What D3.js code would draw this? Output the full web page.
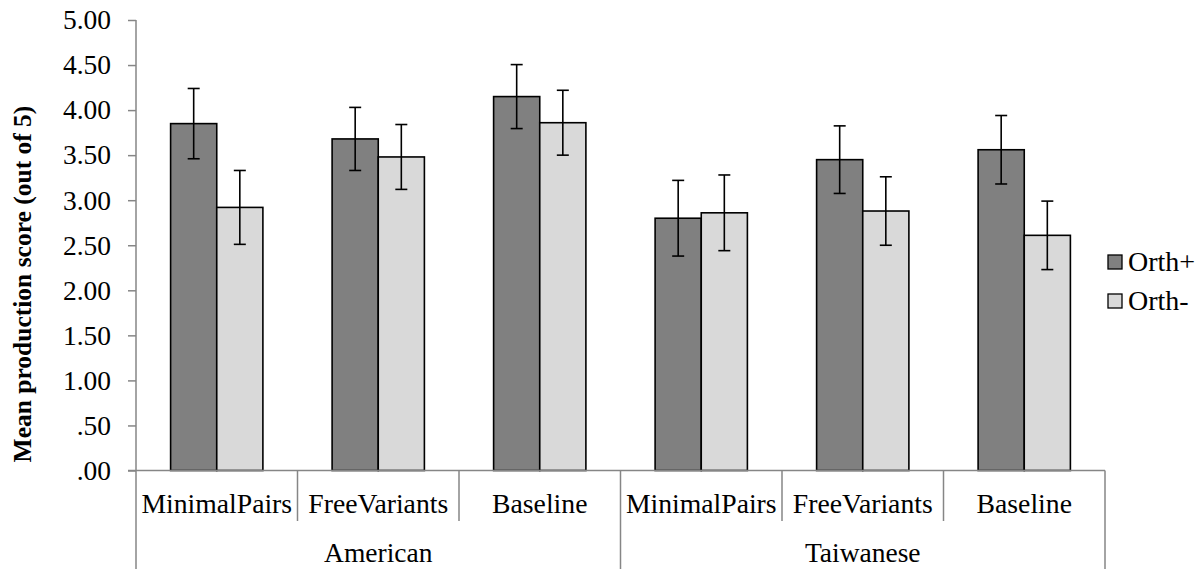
<!DOCTYPE html>
<html>
<head>
<meta charset="utf-8">
<script src="https://cdn.jsdelivr.net/npm/d3@7"></script>
<style>
  html, body { margin: 0; padding: 0; background: #fff; }
  svg { display: block; }
</style>
</head>
<body>
<svg id="chart" width="1199" height="569"></svg>
<script>
// ---- data ----
const groups = ["American", "Taiwanese"];
const conditions = ["MinimalPairs", "FreeVariants", "Baseline"];
const seriesNames = ["Orth+", "Orth-"];
const orthPlus      = [3.85, 3.68, 4.15, 2.80, 3.45, 3.56];
const orthMinus     = [2.92, 3.48, 3.86, 2.86, 2.88, 2.61];
const orthPlusErr   = [0.39, 0.35, 0.355, 0.42, 0.375, 0.38];
const orthMinusErr  = [0.41, 0.36, 0.36, 0.42, 0.38, 0.38];
const yTicks = [0, 0.5, 1, 1.5, 2, 2.5, 3, 3.5, 4, 4.5, 5];
const yTitle = "Mean production score (out of 5)";

// ---- layout ----
const FONT = "'Liberation Serif', 'Times New Roman', Times, serif";
const svg = d3.select("#chart");
const pL = 136, pR = 1105, pT = 20, pB = 470.5;
const axisColor = "#868686";
const fills = ["#808080", "#d9d9d9"];

const cats = [];
groups.forEach(g => conditions.forEach(c => cats.push(g + "|" + c)));

const x = d3.scaleBand().domain(cats).range([pL, pR]).paddingInner(0).paddingOuter(0);
const xs = d3.scaleBand().domain(seriesNames).range([0, x.bandwidth()]).paddingInner(0).paddingOuter(0.75);
const y = d3.scaleLinear().domain([0, 5]).range([pB, pT]);

const fmt = v => { const s = d3.format(".2f")(v); return s.startsWith("0") ? s.slice(1) : s; };

// y axis
const yAxis = d3.axisLeft(y).tickValues(yTicks).tickFormat(fmt).tickSize(8).tickPadding(17);
const yg = svg.append("g").attr("transform", `translate(${pL},0)`).call(yAxis);
yg.attr("font-family", FONT);
yg.select(".domain").remove();
yg.selectAll(".tick line").attr("stroke", axisColor).attr("stroke-width", 1.5);
yg.selectAll(".tick text").attr("font-size", 27.5).attr("fill", "#000").style("font-family", FONT);

// bars
const data = cats.map((c, i) => ({ cat: c, vals: [
  { s: seriesNames[0], v: orthPlus[i], e: orthPlusErr[i], f: fills[0] },
  { s: seriesNames[1], v: orthMinus[i], e: orthMinusErr[i], f: fills[1] }
]}));

const cg = svg.append("g").selectAll("g").data(data).join("g")
  .attr("transform", d => `translate(${x(d.cat)},0)`);

cg.selectAll("rect").data(d => d.vals).join("rect")
  .attr("x", d => xs(d.s))
  .attr("y", d => y(d.v))
  .attr("width", xs.bandwidth())
  .attr("height", d => y(0) - y(d.v))
  .attr("fill", d => d.f)
  .attr("stroke", "#000")
  .attr("stroke-width", 1.6);

// error bars
const eb = cg.selectAll("g.err").data(d => d.vals).join("g").attr("class", "err")
  .attr("transform", d => `translate(${xs(d.s) + xs.bandwidth() / 2},0)`);
eb.append("line").attr("x1", 0).attr("x2", 0)
  .attr("y1", d => y(d.v + d.e)).attr("y2", d => y(d.v - d.e))
  .attr("stroke", "#000").attr("stroke-width", 1.6);
eb.append("line").attr("x1", -6).attr("x2", 6)
  .attr("y1", d => y(d.v + d.e)).attr("y2", d => y(d.v + d.e))
  .attr("stroke", "#000").attr("stroke-width", 1.6);
eb.append("line").attr("x1", -6).attr("x2", 6)
  .attr("y1", d => y(d.v - d.e)).attr("y2", d => y(d.v - d.e))
  .attr("stroke", "#000").attr("stroke-width", 1.6);

// axes lines
svg.append("line").attr("x1", pL).attr("x2", pL).attr("y1", pT).attr("y2", 569)
  .attr("stroke", axisColor).attr("stroke-width", 1.5);
svg.append("line").attr("x1", pL - 8).attr("x2", pR).attr("y1", pB).attr("y2", pB)
  .attr("stroke", axisColor).attr("stroke-width", 1.5);

// category dividers
const bw = x.bandwidth();
cats.forEach((c, i) => {
  const xr = x(c) + bw;
  const isGroupEnd = (i % conditions.length) === conditions.length - 1;
  svg.append("line").attr("x1", xr).attr("x2", xr).attr("y1", pB)
    .attr("y2", isGroupEnd ? 569 : 521)
    .attr("stroke", axisColor).attr("stroke-width", 1.5);
});

// category labels
svg.append("g").selectAll("text").data(cats).join("text")
  .attr("x", d => x(d) + bw / 2).attr("y", 513)
  .attr("text-anchor", "middle").attr("font-size", 27.7).attr("fill", "#000")
  .style("font-family", FONT)
  .text(d => d.split("|")[1]);

// group labels
svg.append("g").selectAll("text").data(groups).join("text")
  .attr("x", (g) => x(g + "|" + conditions[0]) + bw * conditions.length / 2)
  .attr("y", 562)
  .attr("text-anchor", "middle").attr("font-size", 27.5).attr("fill", "#000")
  .style("font-family", FONT)
  .text(d => d);

// y title
svg.append("text")
  .attr("transform", "translate(31,284) rotate(-90)")
  .attr("text-anchor", "middle").attr("font-size", 25.5).attr("font-weight", "bold")
  .style("font-family", FONT)
  .attr("fill", "#000").text(yTitle);

// legend
const lg = svg.append("g").selectAll("g").data(seriesNames).join("g")
  .attr("transform", (d, i) => `translate(1108,${262 + i * 39})`);
lg.append("rect").attr("x", 0).attr("y", -7).attr("width", 14).attr("height", 14)
  .attr("fill", (d, i) => fills[i]).attr("stroke", "#000").attr("stroke-width", 1.3);
lg.append("text").attr("x", 20).attr("y", 9).attr("font-size", 28).attr("fill", "#000")
  .style("font-family", FONT).text(d => d);
</script>
</body>
</html>
